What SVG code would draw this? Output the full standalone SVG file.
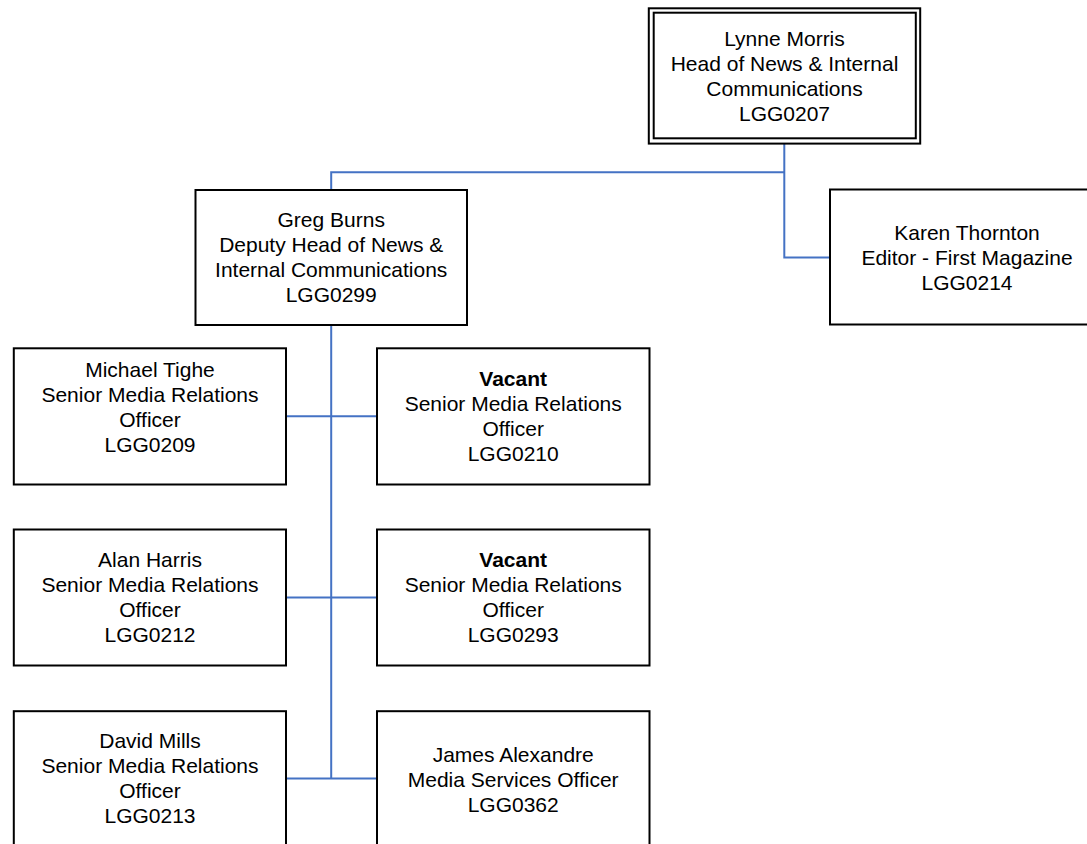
<svg xmlns="http://www.w3.org/2000/svg" width="1087" height="844" viewBox="0 0 1087 844">
<style>
.box{fill:#fff;stroke:#000;stroke-width:2}
.conn{fill:none;stroke:#4472C4;stroke-width:2}
text{font-family:"Liberation Sans",Arial,sans-serif;font-size:21px;fill:#000;text-anchor:middle}
.b{font-weight:bold}
</style>
<rect width="1087" height="844" fill="#fff"/>
<g id="connectors">
<path class="conn" d="M784.3,144 V257.5 H830"/>
<path class="conn" d="M784.3,172.3 H331.2 V190"/>
<path class="conn" d="M331.2,325 V778.5"/>
<path class="conn" d="M286,416.2 H377"/>
<path class="conn" d="M286,597.6 H377"/>
<path class="conn" d="M286,778.5 H377"/>
</g>
<g id="lynne">
<rect class="box" x="648.8" y="8.3" width="271.4" height="135.3"/>
<rect class="box" x="653.7" y="12.7" width="262.1" height="125.6"/>
<text x="784.5" y="45.8">Lynne Morris</text>
<text x="784.5" y="70.8">Head of News &amp; Internal</text>
<text x="784.5" y="95.8">Communications</text>
<text x="784.5" y="120.8">LGG0207</text>
</g>
<g id="greg">
<rect class="box" x="195.5" y="190" width="271.5" height="135"/>
<text x="331.2" y="226.8">Greg Burns</text>
<text x="331.2" y="251.8">Deputy Head of News &amp;</text>
<text x="331.2" y="276.8">Internal Communications</text>
<text x="331.2" y="301.8">LGG0299</text>
</g>
<g id="karen">
<rect class="box" x="830" y="189.5" width="274" height="135"/>
<text x="967" y="240.3">Karen Thornton</text>
<text x="967" y="265.3">Editor - First Magazine</text>
<text x="967" y="290.3">LGG0214</text>
</g>
<g id="michael">
<rect class="box" x="13.8" y="348.3" width="272.2" height="136.2"/>
<text x="150" y="377">Michael Tighe</text>
<text x="150" y="402">Senior Media Relations</text>
<text x="150" y="427">Officer</text>
<text x="150" y="452">LGG0209</text>
</g>
<g id="vacant1">
<rect class="box" x="377" y="348.3" width="272.5" height="136.2"/>
<text class="b" x="513.2" y="385.5">Vacant</text>
<text x="513.2" y="410.5">Senior Media Relations</text>
<text x="513.2" y="435.5">Officer</text>
<text x="513.2" y="460.8">LGG0210</text>
</g>
<g id="alan">
<rect class="box" x="13.8" y="529.5" width="272.2" height="136"/>
<text x="150" y="567">Alan Harris</text>
<text x="150" y="592">Senior Media Relations</text>
<text x="150" y="617">Officer</text>
<text x="150" y="642">LGG0212</text>
</g>
<g id="vacant2">
<rect class="box" x="377" y="529.5" width="272.5" height="136"/>
<text class="b" x="513.2" y="567">Vacant</text>
<text x="513.2" y="592">Senior Media Relations</text>
<text x="513.2" y="617">Officer</text>
<text x="513.2" y="642">LGG0293</text>
</g>
<g id="david">
<rect class="box" x="13.8" y="711.2" width="272.2" height="136"/>
<text x="150" y="748">David Mills</text>
<text x="150" y="773">Senior Media Relations</text>
<text x="150" y="798">Officer</text>
<text x="150" y="823">LGG0213</text>
</g>
<g id="james">
<rect class="box" x="377" y="711.2" width="272.5" height="136"/>
<text x="513.2" y="762">James Alexandre</text>
<text x="513.2" y="787">Media Services Officer</text>
<text x="513.2" y="812">LGG0362</text>
</g>
</svg>
